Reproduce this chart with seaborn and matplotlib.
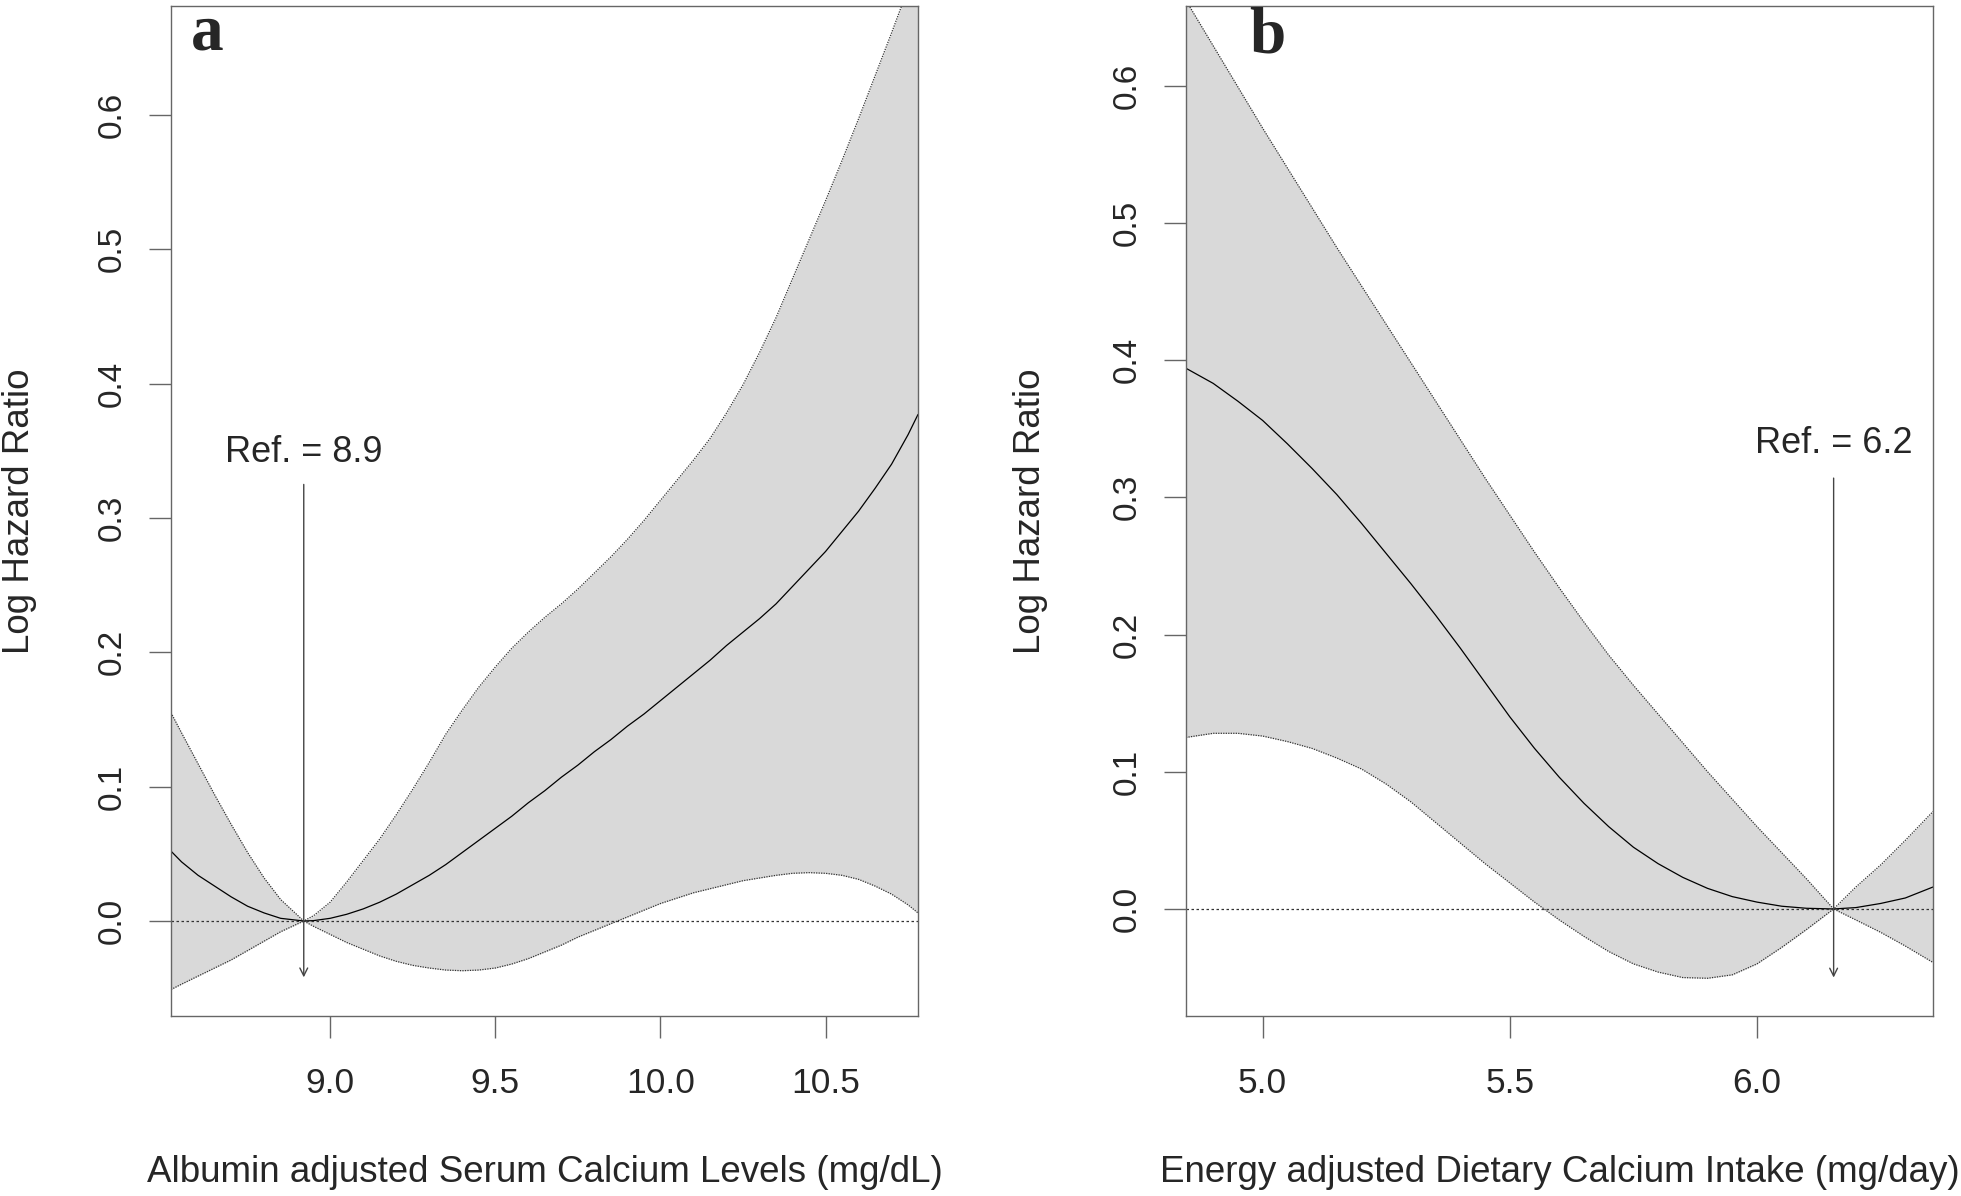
import matplotlib
matplotlib.use("Agg")
import matplotlib.pyplot as plt
import seaborn as sns
import pandas as pd

# panel a: albumin adjusted serum calcium (mg/dL)
serum_x = [8.518, 8.55, 8.60, 8.65, 8.70, 8.75, 8.80, 8.85, 8.92, 8.95, 9.00, 9.05, 9.10, 9.15, 9.20,
           9.25, 9.30, 9.35, 9.40, 9.45, 9.50, 9.55, 9.60, 9.65, 9.70, 9.75, 9.80, 9.85, 9.90, 9.95,
           10.00, 10.05, 10.10, 10.15, 10.20, 10.25, 10.30, 10.35, 10.40, 10.45, 10.50, 10.55, 10.60,
           10.65, 10.70, 10.75, 10.78]
serum_fit = [0.052, 0.044, 0.034, 0.026, 0.018, 0.011, 0.006, 0.002, 0.0, 0.0003, 0.002, 0.005, 0.009,
             0.014, 0.020, 0.027, 0.034, 0.042, 0.051, 0.060, 0.069, 0.078, 0.088, 0.097, 0.107, 0.116,
             0.126, 0.135, 0.145, 0.154, 0.164, 0.174, 0.184, 0.194, 0.205, 0.215, 0.225, 0.236, 0.249,
             0.262, 0.275, 0.290, 0.305, 0.322, 0.340, 0.362, 0.377]
serum_upper = [0.155, 0.140, 0.117, 0.094, 0.072, 0.051, 0.032, 0.016, 0.0, 0.004, 0.014, 0.029, 0.045,
               0.061, 0.079, 0.098, 0.118, 0.139, 0.157, 0.174, 0.189, 0.203, 0.215, 0.226, 0.236, 0.247,
               0.259, 0.271, 0.284, 0.298, 0.313, 0.328, 0.343, 0.359, 0.378, 0.399, 0.423, 0.449, 0.478,
               0.507, 0.536, 0.566, 0.597, 0.629, 0.661, 0.694, 0.714]
serum_lower = [-0.051, -0.047, -0.041, -0.035, -0.029, -0.022, -0.015, -0.008, 0.0, -0.004, -0.010,
               -0.016, -0.021, -0.026, -0.030, -0.033, -0.035, -0.0365, -0.037, -0.0365, -0.035, -0.032,
               -0.028, -0.023, -0.018, -0.012, -0.007, -0.002, 0.003, 0.008, 0.013, 0.017, 0.021, 0.024,
               0.027, 0.030, 0.032, 0.034, 0.0355, 0.036, 0.0355, 0.034, 0.031, 0.026, 0.020, 0.012, 0.006]

# panel b: energy adjusted dietary calcium intake
diet_x = [4.845, 4.90, 4.95, 5.00, 5.05, 5.10, 5.15, 5.20, 5.25, 5.30, 5.35, 5.40, 5.45, 5.50, 5.55,
          5.60, 5.65, 5.70, 5.75, 5.80, 5.85, 5.90, 5.95, 6.00, 6.05, 6.10, 6.155, 6.20, 6.25, 6.30, 6.356]
diet_fit = [0.394, 0.383, 0.370, 0.356, 0.339, 0.321, 0.302, 0.281, 0.259, 0.237, 0.214, 0.190, 0.165,
            0.140, 0.117, 0.096, 0.077, 0.060, 0.045, 0.033, 0.023, 0.015, 0.009, 0.005, 0.002, 0.0005,
            0.0, 0.001, 0.004, 0.008, 0.016]
diet_upper = [0.662, 0.629, 0.599, 0.569, 0.540, 0.511, 0.482, 0.454, 0.426, 0.398, 0.370, 0.342, 0.314,
              0.287, 0.260, 0.234, 0.209, 0.185, 0.163, 0.142, 0.121, 0.100, 0.080, 0.060, 0.041, 0.022,
              0.0, 0.016, 0.032, 0.050, 0.071]
diet_lower = [0.125, 0.128, 0.128, 0.126, 0.122, 0.117, 0.110, 0.102, 0.091, 0.078, 0.063, 0.048, 0.033,
              0.019, 0.005, -0.008, -0.020, -0.031, -0.040, -0.046, -0.050, -0.0505, -0.048, -0.040,
              -0.028, -0.015, 0.0, -0.008, -0.017, -0.027, -0.039]

yticks = [0.0, 0.1, 0.2, 0.3, 0.4, 0.5, 0.6]

panels = [
    dict(letter="a", x=serum_x, fit=serum_fit, lo=serum_lower, hi=serum_upper, ref=8.92, ref_txt="Ref. = 8.9",
         xlim=(8.518, 10.78), ylim=(-0.0707, 0.681), xticks=[9.0, 9.5, 10.0, 10.5],
         arrow=(0.327, -0.044), txt_y=0.349, letter_pos=(0.0264, 0.9574), ylab_x=20,
         xlabel="Albumin adjusted Serum Calcium Levels (mg/dL)", left=171),
    dict(letter="b", x=diet_x, fit=diet_fit, lo=diet_lower, hi=diet_upper, ref=6.155, ref_txt="Ref. = 6.2",
         xlim=(4.845, 6.356), ylim=(-0.078, 0.658), xticks=[5.0, 5.5, 6.0],
         arrow=(0.316, -0.052), txt_y=0.339, letter_pos=(0.0845, 0.9544), ylab_x=1031,
         xlabel="Energy adjusted Dietary Calcium Intake (mg/day)", left=1186),
]

sns.set_theme(style="white")
plt.rcParams['font.family'] = ['Liberation Sans', 'DejaVu Sans']

W, H = 1961, 1196
fig = plt.figure(figsize=(W / 100, H / 100), dpi=100)
edge = "#666666"
ax_w, ax_top, ax_bot = 747, 6, 1016

for p in panels:
    ax = fig.add_axes([p["left"] / W, 1 - ax_bot / H, ax_w / W, (ax_bot - ax_top) / H])
    df = pd.DataFrame({"x": p["x"], "fit": p["fit"], "lo": p["lo"], "hi": p["hi"]})
    ax.fill_between(df["x"], df["lo"], df["hi"], color="#d9d9d9", lw=0)
    sns.lineplot(data=df, x="x", y="hi", ax=ax, color="#333333", lw=0.9, linestyle=(0, (1, 1)))
    sns.lineplot(data=df, x="x", y="lo", ax=ax, color="#333333", lw=0.9, linestyle=(0, (1, 1)))
    sns.lineplot(data=df, x="x", y="fit", ax=ax, color="black", lw=0.9)
    ax.axhline(0, color="#333333", lw=0.9, linestyle=(0, (2, 2)))

    # reference arrow and label
    ax.annotate("", xy=(p["ref"], p["arrow"][1]), xytext=(p["ref"], p["arrow"][0]),
                arrowprops=dict(arrowstyle="->", color="#444444", lw=1.0, mutation_scale=14))
    ax.text(p["ref"], p["txt_y"], p["ref_txt"], ha="center", va="center", fontsize=26)
    ax.text(p["letter_pos"][0], p["letter_pos"][1], p["letter"], transform=ax.transAxes,
            ha="left", va="baseline", fontsize=47, fontweight="bold", family="Liberation Serif")

    ax.set_xlim(p["xlim"])
    ax.set_ylim(p["ylim"])
    ax.set_xticks(p["xticks"])
    ax.set_xticklabels([f"{t:.1f}" for t in p["xticks"]])
    ax.set_yticks(yticks)
    ax.set_yticklabels([f"{t:.1f}" for t in yticks], rotation=90, va="center")
    ax.tick_params(axis="both", direction="out", length=16, width=1.0, color=edge,
                   bottom=True, left=True)
    ax.tick_params(axis="x", labelsize=25.5, pad=21)
    ax.tick_params(axis="y", labelsize=24, pad=15)
    for s in ax.spines.values():
        s.set_color(edge)
        s.set_linewidth(1.0)
    ax.set_xlabel("")
    ax.set_ylabel("")

    cx = (p["left"] + ax_w / 2) / W
    fig.text(cx, 1 - 1182 / H, p["xlabel"], ha="center", va="baseline", fontsize=26.5)
    fig.text(p["ylab_x"] / W, 1 - (ax_top + ax_bot) / 2 / H, "Log Hazard Ratio", rotation=90,
             ha="center", va="center", fontsize=26.5)

fig.savefig("out.png", dpi=100)
